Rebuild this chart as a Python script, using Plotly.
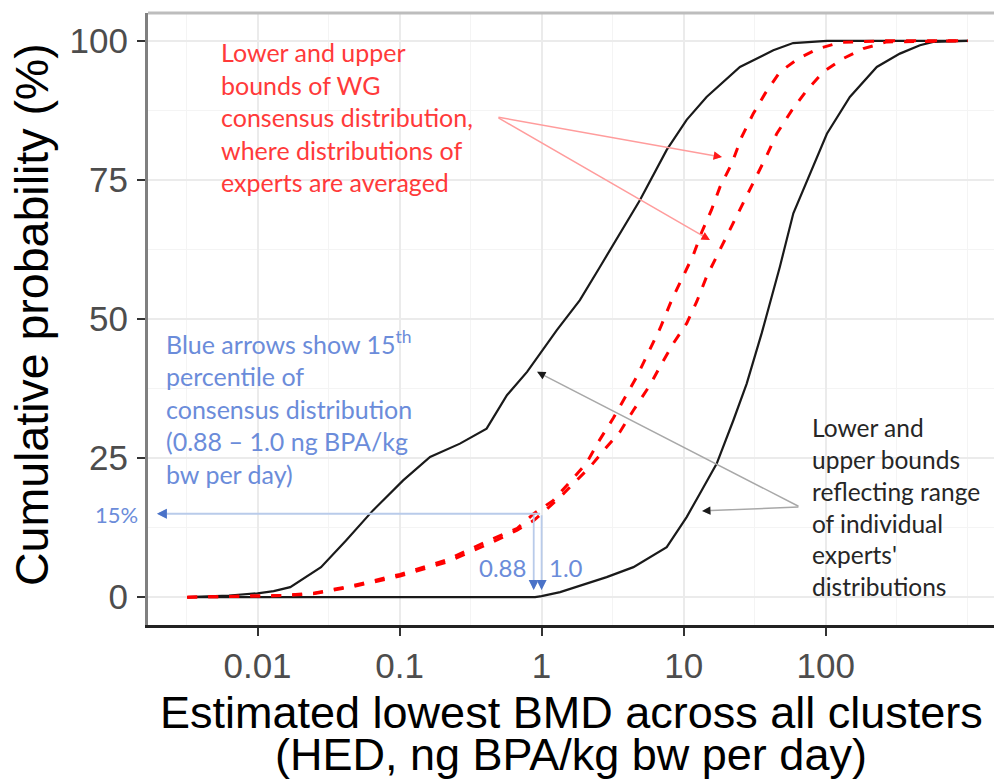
import numpy as np
import plotly.graph_objects as go

# ---------------- data ----------------
# Black solid: upper bound of individual experts' range (left curve)
expert_upper_x = [0.0032, 0.0063, 0.01, 0.013, 0.017, 0.028, 0.042, 0.065, 0.106, 0.164, 0.266,
                  0.41, 0.57, 0.79, 1.28, 1.86, 2.58, 4.93, 7.6, 10.5, 14.5, 24.9, 42.8, 59, 102, 1000]
expert_upper_y = [0, 0.3, 0.7, 1.1, 1.8, 5.4, 10.2, 15.6, 21.0, 25.2, 27.6,
                  30.3, 36.3, 40.5, 48.0, 53.4, 59.4, 71.4, 80.4, 85.8, 89.9, 95.3, 98.3, 99.6, 100, 100]

# Black solid: lower bound of individual experts' range (right curve)
expert_lower_x = [0.0032, 0.9, 1.0, 1.35, 2.87, 4.43, 7.6, 10.5, 13.0, 17.1, 22.4, 27.8, 35.5,
                  47.6, 59.2, 77.4, 102, 148, 229, 333, 461, 571, 1000]
expert_lower_y = [0, 0, 0.2, 0.9, 3.6, 5.4, 9.0, 14.4, 18.6, 24.0, 31.8, 38.4, 47.5,
                  59.4, 69.0, 76.2, 83.3, 89.9, 95.3, 97.7, 99.2, 99.8, 100]

# Red dashed: WG consensus distribution bounds
wg_upper_x = [0.0032, 0.0063, 0.0152, 0.0247, 0.0472, 0.1007, 0.215, 0.434, 0.668, 0.88, 1.21,
              1.58, 2.07, 2.51, 3.2, 4.67, 5.79, 6.82, 8.24, 9.95, 11.7, 13.4, 15.7, 18.0, 21.8,
              25.6, 30.9, 37.4, 47.6, 64.1, 88.7, 126, 251, 1000]
wg_upper_y = [0, 0.1, 0.3, 0.7, 2.1, 4.1, 6.7, 10.3, 12.3, 15.0, 17.4,
              20.7, 24.1, 27.9, 32.2, 39.6, 44.4, 48.3, 53.4, 57.6, 61.5, 65.6, 69.6, 73.7, 77.9,
              82.7, 86.9, 90.5, 94.4, 96.8, 98.6, 99.7, 100, 100]

wg_lower_x = [0.0032, 0.0063, 0.0152, 0.0247, 0.0472, 0.1007, 0.215, 0.434, 0.668, 0.88, 1.0,
              1.35, 2.19, 2.87, 3.56, 4.43, 5.79, 7.01, 8.45, 10.5, 12.4, 14.5, 17.5, 21.8,
              26.3, 31.8, 38.5, 45.2, 57.7, 73.5, 96.2, 130, 184, 269, 1000]
wg_lower_y = [0, 0.1, 0.3, 0.6, 1.9, 3.8, 6.3, 9.7, 12.0, 13.8, 15.0,
              18.0, 23.4, 27.0, 29.7, 33.6, 38.1, 42.0, 45.6, 49.2, 53.2, 57.6, 61.8, 66.9,
              70.8, 75.3, 79.4, 83.3, 87.5, 91.1, 94.4, 96.7, 98.6, 99.8, 100]

x_tick_vals = [0.01, 0.1, 1, 10, 100]
x_tick_text = ["0.01", "0.1", "1", "10", "100"]
y_tick_vals = [0, 25, 50, 75, 100]
y_tick_text = ["0", "25", "50", "75", "100"]

pct15 = 15
pct15_bounds = [0.88, 1.0]

# arrow anchor points (data units): tail and heads
red_tail = (0.485, 86.3)
red_heads = [(18.6, 79.1), (15.3, 64.2)]
gray_tail = (65.9, 16.2)
gray_heads = [(0.93, 40.5), (13.5, 15.5)]
blue_left_head_x = 0.00196
blue_down_head_y = 1.3

# ---------------- figure ----------------
X_RANGE = [-2.771, 3.185]
Y_RANGE = [-5, 105]
PLOT_W, PLOT_H = 846, 612

fig = go.Figure()

black = "#1a1a1a"
fig.add_trace(go.Scatter(x=expert_upper_x, y=expert_upper_y, mode="lines",
                         line=dict(color=black, width=2.2), showlegend=False, hoverinfo="skip"))
fig.add_trace(go.Scatter(x=expert_lower_x, y=expert_lower_y, mode="lines",
                         line=dict(color=black, width=2.2), showlegend=False, hoverinfo="skip"))
fig.add_trace(go.Scatter(x=wg_upper_x, y=wg_upper_y, mode="lines",
                         line=dict(color="#ff0000", width=3, dash="10px,11px"),
                         showlegend=False, hoverinfo="skip"))
fig.add_trace(go.Scatter(x=wg_lower_x, y=wg_lower_y, mode="lines",
                         line=dict(color="#ff0000", width=3, dash="10px,11px"),
                         showlegend=False, hoverinfo="skip"))

annotations = []


def px_dir(x0, y0, x1, y1):
    """unit direction (pixels, screen y down) from (x0,y0) to (x1,y1) in data units"""
    sx = PLOT_W / (X_RANGE[1] - X_RANGE[0])
    sy = PLOT_H / (Y_RANGE[1] - Y_RANGE[0])
    dx = (np.log10(x1) - np.log10(x0)) * sx
    dy = -(y1 - y0) * sy
    n = np.hypot(dx, dy)
    return dx / n, dy / n


def arrow(tail, head, line_color, head_color, width=1.5, head_len=9):
    annotations.append(dict(
        x=np.log10(head[0]), y=head[1], ax=np.log10(tail[0]), ay=tail[1],
        xref="x", yref="y", axref="x", ayref="y", text="", showarrow=True,
        arrowhead=2, arrowsize=1.1, arrowwidth=width, arrowcolor=line_color))
    ux, uy = px_dir(tail[0], tail[1], head[0], head[1])
    annotations.append(dict(
        x=np.log10(head[0]), y=head[1], ax=-ux * head_len, ay=-uy * head_len,
        xref="x", yref="y", text="", showarrow=True,
        arrowhead=2, arrowsize=1.1, arrowwidth=width, arrowcolor=head_color))


for h in red_heads:
    arrow(red_tail, h, "#ff9c9c", "#ff1a1a")
for h in gray_heads:
    arrow(gray_tail, h, "#a8a8a8", "#1a1a1a")

# blue arrows
arrow((pct15_bounds[1], pct15), (blue_left_head_x, pct15), "#b9cbea", "#4a72c8", width=1.8)
for b in pct15_bounds:
    arrow((b, pct15), (b, blue_down_head_y), "#b9cbea", "#4a72c8", width=1.8, head_len=7)

# texts
red_txt = "#ff3a3a"
blue_txt = "#6b8cda"
annot_font = "Lato, 'Open Sans', sans-serif"


def px_to_paper_x(px):
    return (px - 148) / PLOT_W


def px_to_paper_y(py):
    return (625 - py) / PLOT_H


annotations.append(dict(
    text="Lower and upper<br>bounds of WG<br>consensus distribution,<br>where distributions of<br>experts are averaged",
    x=px_to_paper_x(219), y=px_to_paper_y(117), xref="paper", yref="paper",
    xanchor="left", yanchor="middle", align="left", showarrow=False,
    font=dict(family=annot_font, size=25, color=red_txt)))

annotations.append(dict(
    text="Blue arrows show 15<sup>th</sup><br>percentile of<br>consensus distribution<br>(0.88 – 1.0 ng BPA/kg<br>bw per day)",
    x=px_to_paper_x(164), y=px_to_paper_y(408), xref="paper", yref="paper",
    xanchor="left", yanchor="middle", align="left", showarrow=False,
    font=dict(family=annot_font, size=25, color=blue_txt)))

annotations.append(dict(
    text="Lower and<br>upper bounds<br>reflecting range<br>of individual<br>experts'<br>distributions",
    x=px_to_paper_x(810), y=px_to_paper_y(507), xref="paper", yref="paper",
    xanchor="left", yanchor="middle", align="left", showarrow=False,
    font=dict(family=annot_font, size=24.5, color="#262626")))

annotations.append(dict(text="15%", x=px_to_paper_x(116), y=px_to_paper_y(514),
                        xref="paper", yref="paper", showarrow=False,
                        xanchor="center", yanchor="middle",
                        font=dict(family=annot_font, size=22, color=blue_txt)))
annotations.append(dict(text="0.88", x=px_to_paper_x(502), y=px_to_paper_y(567),
                        xref="paper", yref="paper", showarrow=False,
                        xanchor="center", yanchor="middle",
                        font=dict(family=annot_font, size=24, color=blue_txt)))
annotations.append(dict(text="1.0", x=px_to_paper_x(566), y=px_to_paper_y(567),
                        xref="paper", yref="paper", showarrow=False,
                        xanchor="center", yanchor="middle",
                        font=dict(family=annot_font, size=24, color=blue_txt)))

# axis titles
title_font = dict(family="Liberation Sans, Arial, sans-serif", size=45, color="#000000")
annotations.append(dict(text="Estimated lowest BMD across all clusters",
                        x=0.5, y=px_to_paper_y(712), xref="paper", yref="paper",
                        xanchor="center", yanchor="middle", showarrow=False, font=title_font))
annotations.append(dict(text="(HED, ng BPA/kg bw per day)",
                        x=0.5, y=px_to_paper_y(754), xref="paper", yref="paper",
                        xanchor="center", yanchor="middle", showarrow=False, font=title_font))
annotations.append(dict(text="Cumulative probability (%)", textangle=-90,
                        x=px_to_paper_x(32), y=px_to_paper_y(315), xref="paper", yref="paper",
                        xanchor="center", yanchor="middle", showarrow=False,
                        font=dict(family="Liberation Sans, Arial, sans-serif", size=46.5,
                                  color="#000000")))

minor_x = [10 ** v for v in [-2.5, -1.5, -0.5, 0.5, 1.5, 2.5, 3.0]]
tick_font = dict(family="Liberation Sans, Arial, sans-serif", size=35, color="#4d4d4d")

fig.update_layout(
    width=994, height=782,
    margin=dict(l=148, r=0, t=13, b=157),
    paper_bgcolor="white", plot_bgcolor="white",
    annotations=annotations,
    xaxis=dict(
        type="log", range=X_RANGE, automargin=False,
        tickmode="array", tickvals=x_tick_vals, ticktext=x_tick_text,
        showgrid=True, gridcolor="#ebebeb", gridwidth=1.5,
        minor=dict(tickmode="array", tickvals=minor_x, showgrid=True,
                   gridcolor="#f4f4f4", gridwidth=1.2, ticks=""),
        showline=True, linecolor="#222222", linewidth=3,
        ticks="outside", ticklen=8, tickwidth=2, tickcolor="#333333",
        ticklabelstandoff=0,
        tickfont=tick_font,
        zeroline=False,
    ),
    yaxis=dict(
        range=Y_RANGE, automargin=False,
        tickmode="array", tickvals=y_tick_vals, ticktext=y_tick_text,
        showgrid=True, gridcolor="#ebebeb", gridwidth=1.5,
        minor=dict(tickmode="array", tickvals=[12.5, 37.5, 62.5, 87.5], showgrid=True,
                   gridcolor="#f4f4f4", gridwidth=1.2, ticks=""),
        showline=True, linecolor="#808080", linewidth=3,
        ticks="outside", ticklen=8, tickwidth=2, tickcolor="#333333",
        ticklabelstandoff=2,
        tickfont=tick_font,
        zeroline=False,
    ),
    shapes=[dict(type="line", xref="paper", yref="paper", x0=0, x1=1, y0=1, y1=1,
                 line=dict(color="#bdbdbd", width=3))],
)

fig.write_html("out.html", config={"displayModeBar": False},
               post_script="document.body.style.margin='0px';")
